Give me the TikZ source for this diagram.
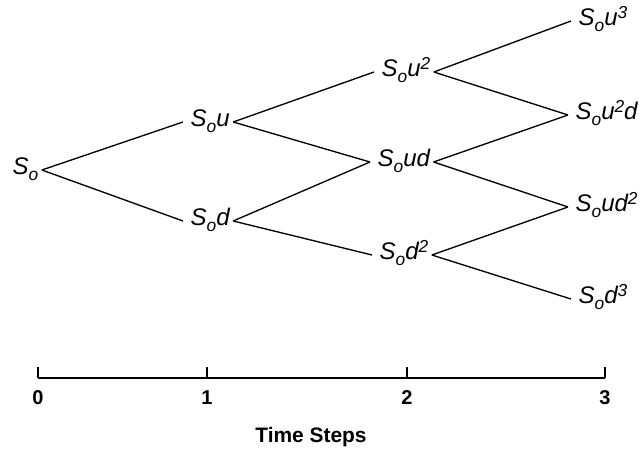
\documentclass[tikz,border=0pt]{standalone}
\usepackage{fontspec}
\setmainfont{Liberation Sans}
\newcommand\lo[1]{\raisebox{-0.25em}{\fontsize{13}{13}\selectfont #1}}
\newcommand\hi[1]{\raisebox{0.3em}{\fontsize{13}{13}\selectfont #1}}

\begin{document}
\begin{tikzpicture}[x=0.75pt,y=-0.75pt,
  price/.style={anchor=west,inner xsep=2.5pt,inner ysep=1pt,text height=0.72em,text depth=0pt,
    font=\fontsize{18}{21}\selectfont\itshape},
  branch/.style={line width=1pt},
  axisline/.style={line width=1.9pt},
  steplabel/.style={font=\fontsize{15}{18}\selectfont\bfseries}]
\useasboundingbox (0,0) rectangle (642,450);

% price nodes, one column per step
\node[price] (so)    at (9,170)   {S\lo{o}};
\node[price] (sou)   at (187,122) {S\lo{o}u};
\node[price] (sod)   at (187,221) {S\lo{o}d};
\node[price] (souu)  at (378,72)  {S\lo{o}u\hi{2}};
\node[price] (soud)  at (374,162) {S\lo{o}ud};
\node[price] (sodd)  at (376,255) {S\lo{o}d\hi{2}};
\node[price] (souuu) at (575,21)  {S\lo{o}u\hi{3}};
\node[price] (souud) at (572,115) {S\lo{o}u\hi{2}d};
\node[price] (soudd) at (572,207) {S\lo{o}ud\hi{2}};
\node[price] (soddd) at (575,299) {S\lo{o}d\hi{3}};

\foreach \a/\b in {so/sou,so/sod,sou/souu,sou/soud,sod/soud,sod/sodd,
    souu/souuu,souu/souud,soud/souud,soud/soudd,sodd/soudd,sodd/soddd}
  \draw[branch] (\a.east) -- ([xshift=-3pt]\b.west);

% time axis
\foreach \t/\x in {0/38,1/207,2/407,3/605}{
  \coordinate (t\t) at (\x,378);
  \draw[axisline] (t\t) -- ++(0,-11);
  \node[steplabel] (n\t) at (\x,398) {\t};
}
\draw[axisline] (t0) -- (t3);
\node[steplabel,font=\fontsize{15.7}{18}\selectfont\bfseries] (title) at (311,437) {Time Steps};

\end{tikzpicture}
\end{document}
